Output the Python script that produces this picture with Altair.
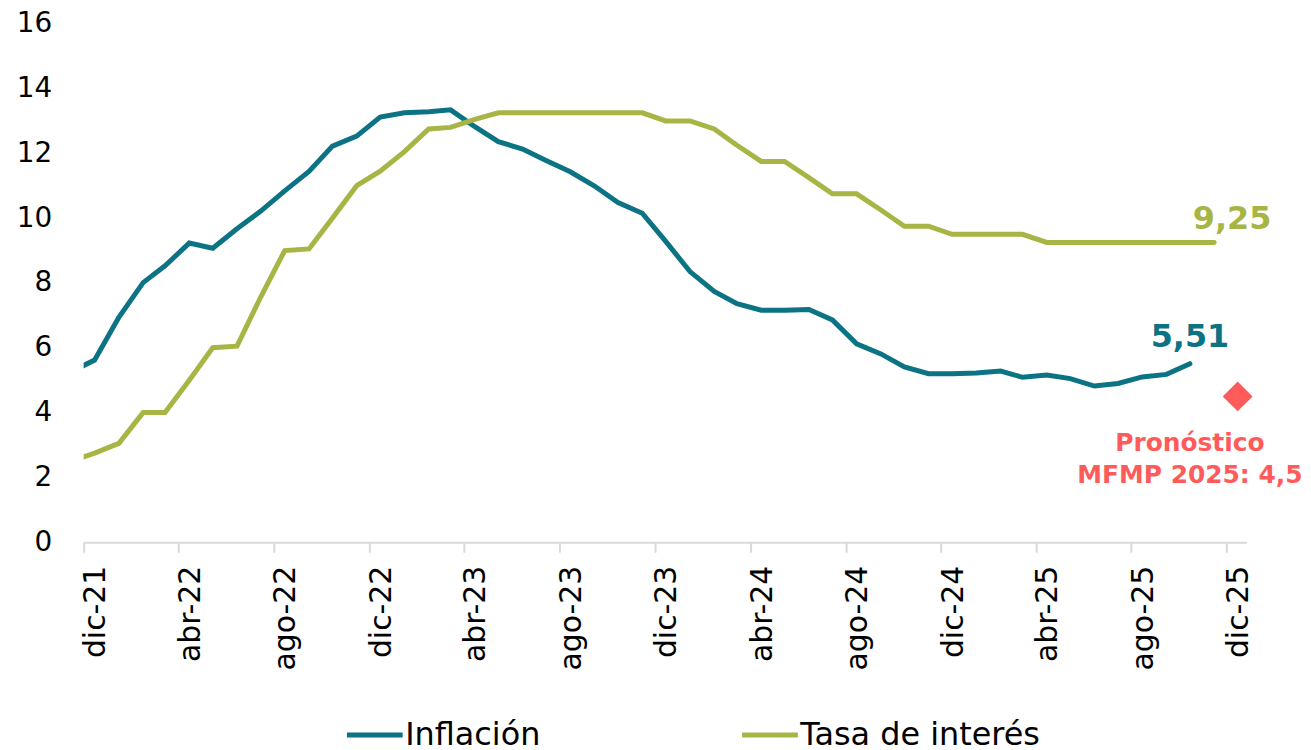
import altair as alt
import pandas as pd

FONT = "DejaVu Sans"
TEAL = "#0B7383"
GREEN = "#A8B545"
RED = "#FF5B5B"

# Monthly series, first month nov-21 (plotted at mid-month)
meses = pd.date_range("2021-11-01", periods=49, freq="MS")
fechas = [(m + pd.Timedelta(days=14)).strftime("%Y-%m-%d") for m in meses]

inflacion = [5.26, 5.62, 6.94, 8.01, 8.53, 9.23, 9.07, 9.67, 10.21, 10.84, 11.44, 12.22,
             12.53, 13.12, 13.25, 13.28, 13.34, 12.82, 12.36, 12.13, 11.78, 11.43, 10.99, 10.48,
             10.15, 9.28, 8.35, 7.74, 7.36, 7.16, 7.16, 7.18, 6.86, 6.12, 5.81, 5.41,
             5.20, 5.20, 5.22, 5.28, 5.09, 5.16, 5.05, 4.82, 4.90, 5.10, 5.18, 5.51]

tasa = [2.5, 2.75, 3.05, 4.0, 4.0, 5.0, 6.0, 6.05, 7.55, 9.0, 9.05, 10.0,
        11.0, 11.45, 12.05, 12.75, 12.8, 13.05, 13.25, 13.25, 13.25, 13.25, 13.25, 13.25,
        13.25, 13.0, 13.0, 12.75, 12.25, 11.75, 11.75, 11.25, 10.75, 10.75, 10.25, 9.75,
        9.75, 9.5, 9.5, 9.5, 9.5, 9.25, 9.25, 9.25, 9.25, 9.25, 9.25, 9.25, 9.25]

series = ["Inflación", "Tasa de interés"]
pronostico_fecha = "2025-12-15"
pronostico_valor = 4.5
pronostico_texto = ["Pronóstico", "MFMP 2025: 4,5"]

df = pd.concat([
    pd.DataFrame({"fecha": fechas[:len(inflacion)], "valor": inflacion, "serie": series[0]}),
    pd.DataFrame({"fecha": fechas[:len(tasa)], "valor": tasa, "serie": series[1]}),
], ignore_index=True)

fmt = lambda v: f"{v:.2f}".replace(".", ",")
ann_inf = pd.DataFrame({"fecha": [fechas[len(inflacion) - 1]], "valor": [inflacion[-1]],
                        "texto": [fmt(inflacion[-1])]})
ann_tasa = pd.DataFrame({"fecha": [fechas[len(tasa) - 1]], "valor": [tasa[-1]],
                         "texto": [fmt(tasa[-1])]})
pron = pd.DataFrame({"fecha": [pronostico_fecha], "valor": [pronostico_valor],
                     "texto": [pronostico_texto]})

label_expr = ("['ene','feb','mar','abr','may','jun','jul','ago','sep','oct','nov','dic']"
              "[utcmonth(datum.value)] + '-' + utcFormat(datum.value, '%y')")

tick_vals = [alt.DateTime(year=y, month=m, date=1, utc=True)
             for (y, m) in [(2021, 12), (2022, 4), (2022, 8), (2022, 12), (2023, 4), (2023, 8),
                            (2023, 12), (2024, 4), (2024, 8), (2024, 12), (2025, 4), (2025, 8),
                            (2025, 12)]]

x_enc = alt.X(
    "fecha:T",
    title=None,
    scale=alt.Scale(type="utc",
                    domain=[alt.DateTime(year=2021, month=12, date=1, utc=True),
                            alt.DateTime(year=2025, month=12, date=26, utc=True)]),
    axis=alt.Axis(values=tick_vals, labelExpr=label_expr, labelAngle=-90, labelAlign="right",
                  labelBaseline="middle", labelOffset=12, labelFontSize=30, labelFont=FONT,
                  labelColor="#000000", labelPadding=13, tickSize=10, tickColor="#D9D9D9",
                  tickWidth=2, domainColor="#D9D9D9", domainWidth=2, grid=False,
                  labelOverlap=False, labelFlush=False),
)
y_enc = alt.Y(
    "valor:Q",
    title=None,
    scale=alt.Scale(domain=[0, 16], nice=False),
    axis=alt.Axis(values=list(range(0, 17, 2)), labelFontSize=28, labelFont=FONT,
                  labelColor="#000000", labelPadding=32, domain=False, ticks=False, grid=False),
)

lines = alt.Chart(df).mark_line(strokeWidth=5, clip=True, strokeCap="round").encode(
    x=x_enc,
    y=y_enc,
    color=alt.Color(
        "serie:N",
        scale=alt.Scale(domain=series, range=[TEAL, GREEN]),
        legend=alt.Legend(title=None, orient="none", direction="horizontal",
                          legendX=262, legendY=684, symbolType="stroke", symbolSize=3136,
                          symbolStrokeWidth=5, labelFontSize=32, labelFont=FONT,
                          labelColor="#000000", labelOffset=0, columnPadding=192,
                          labelLimit=400),
    ),
)

txt_inf = alt.Chart(ann_inf).mark_text(
    font=FONT, fontSize=32, fontWeight="bold", color=TEAL, align="center",
    baseline="alphabetic", dy=-17
).encode(x="fecha:T", y="valor:Q", text="texto:N")

txt_tasa = alt.Chart(ann_tasa).mark_text(
    font=FONT, fontSize=32, fontWeight="bold", color=GREEN, align="center",
    baseline="alphabetic", dx=18, dy=-14
).encode(x="fecha:T", y="valor:Q", text="texto:N")

diamante = alt.Chart(pron).mark_point(
    shape="diamond", filled=True, size=900, color=RED, opacity=1
).encode(x="fecha:T", y="valor:Q")

txt_pron = alt.Chart(pron).mark_text(
    font=FONT, fontSize=25, fontWeight="bold", color=RED, align="center",
    baseline="alphabetic", dx=-48, dy=55, lineHeight=32
).encode(x="fecha:T", y="valor:Q", text="texto")

chart = alt.layer(lines, txt_inf, txt_tasa, diamante, txt_pron).properties(
    width=1168, height=521,
    padding={"left": 8, "top": 0, "right": 0, "bottom": 0},
).configure_view(stroke=None)

chart.save("out.html", embed_options={"renderer": "svg", "actions": False})
